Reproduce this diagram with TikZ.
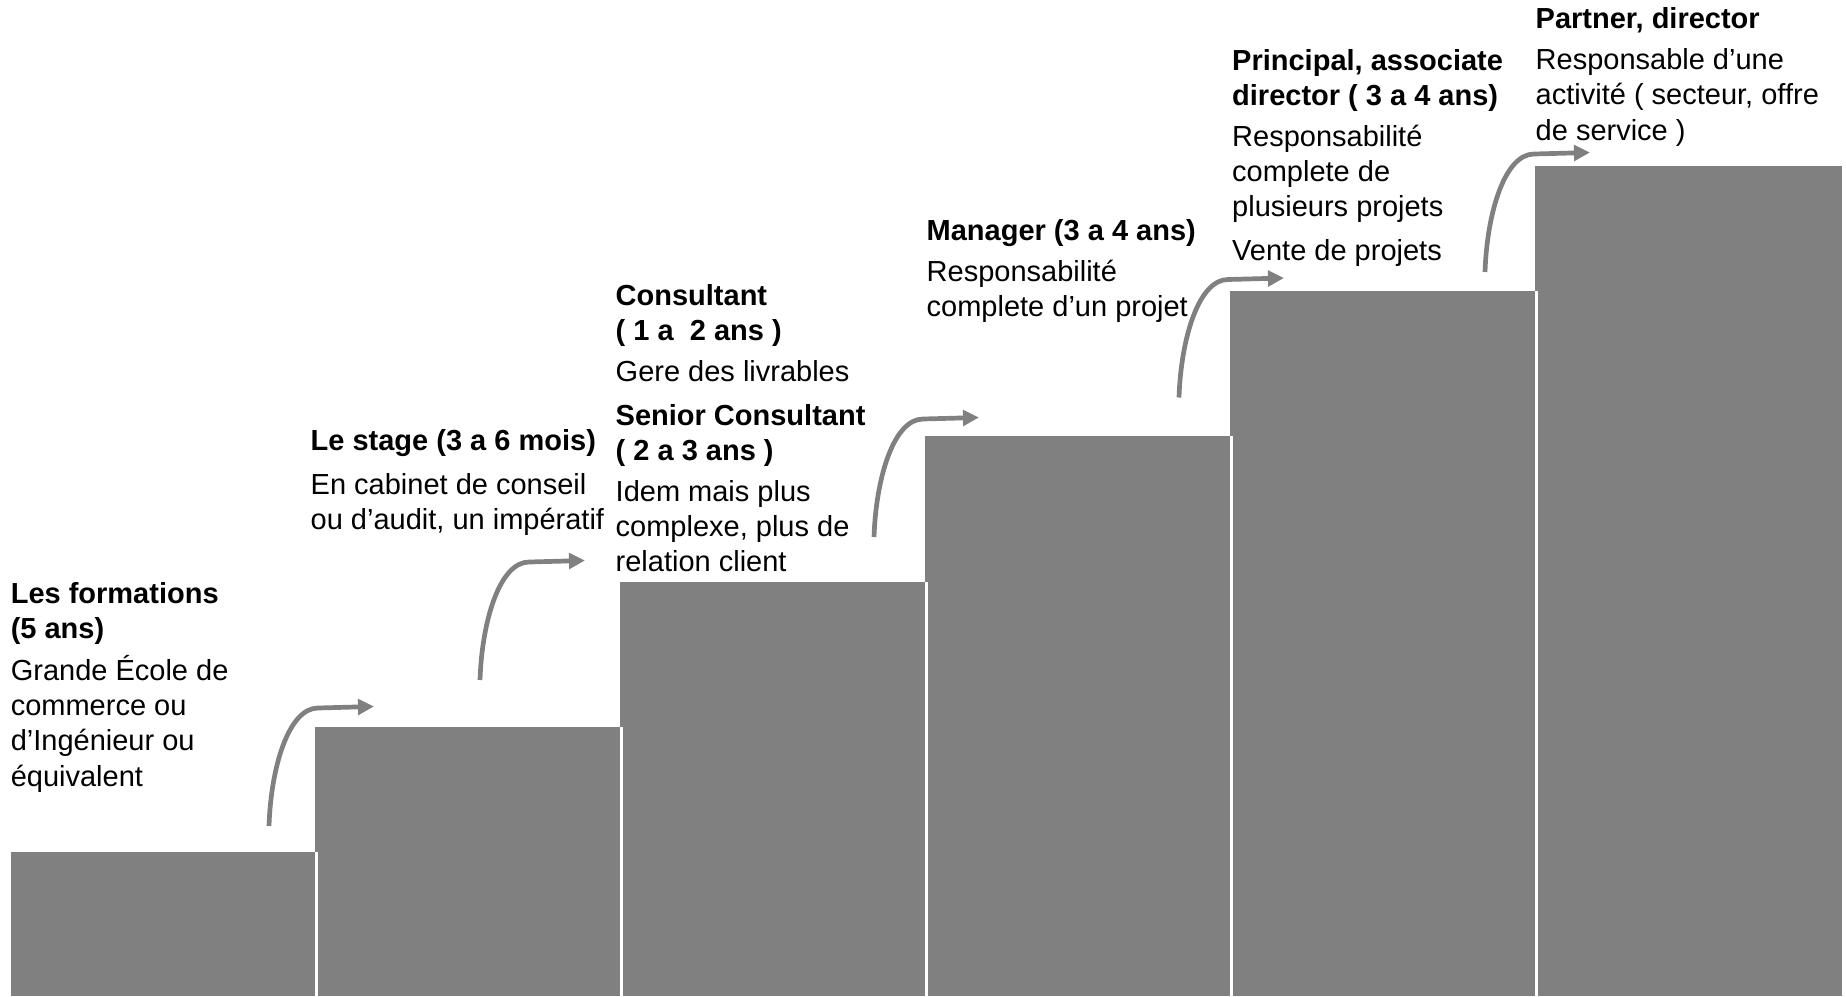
\documentclass[tikz,border=0pt]{standalone}
\usepackage{fontspec}
\setmainfont{Liberation Sans}
\usetikzlibrary{arrows.meta}
\definecolor{stepgray}{HTML}{808080}
\begin{document}
\begin{tikzpicture}[x=1pt,y=-1pt,
  bar/.style={fill=stepgray, draw=none},
  sep/.style={draw=white, line width=2.7pt},
  txt/.style={anchor=base west, inner sep=0pt, align=left, font=\fontsize{29}{35.3}\selectfont},
  head/.style={txt, font=\fontsize{29}{35}\selectfont\bfseries},
  steparrow/.style={draw=stepgray, line width=4.7pt, -{Triangle[length=16pt,width=15.5pt]}}]
\useasboundingbox (0,0) rectangle (1846,996);

% steps
\fill[bar] (10.6,851.5) rectangle (315,996);
\fill[bar] (315,726.7) rectangle (620,996);
\fill[bar] (620,581.7) rectangle (925,996);
\fill[bar] (925,436) rectangle (1230,996);
\fill[bar] (1230,290.7) rectangle (1535,996);
\fill[bar] (1535,166) rectangle (1842,996);
\draw[sep] (316.3,851.5) -- (316.3,996);
\draw[sep] (621.3,726.7) -- (621.3,996);
\draw[sep] (926.3,581.7) -- (926.3,996);
\draw[sep] (1231.3,436) -- (1231.3,996);
\draw[sep] (1536.3,290.7) -- (1536.3,996);

% arrows
\foreach \n/\ax/\ay in {1/269/826, 2/480/680, 3/874/537, 4/1179/397.5, 5/1485/272}{
  \begin{scope}[shift={(\ax,\ay)}]
    \coordinate (a\n s) at (0,0);
    \coordinate (a\n m) at (49,-118);
    \coordinate (a\n e) at (105,-119.5);
    \draw[steparrow] (a\n s) .. controls (2,-60) and (20,-118) .. (a\n m) -- (a\n e);
  \end{scope}
}

% texts (base anchor = baseline of the last line)
\node[head] (h1) at (10.6,638.5) {Les formations\\(5 ans)};
\node[txt]  (b1) at (10.6,786) {Grande École de\\commerce ou\\d’Ingénieur ou\\équivalent};

\node[head] (h2) at (310.5,450) {Le stage (3 a 6 mois)};
\node[txt]  (b2) at (310.5,529.5) {En cabinet de conseil\\ou d’audit, un impératif};

\node[head] (h3a) at (615.5,340) {Consultant\\( 1 a~~2 ans )};
\node[txt]  (b3a) at (615.5,381.7) {Gere des livrables};
\node[head] (h3b) at (615.5,460) {Senior Consultant\\( 2 a 3 ans )};
\node[txt]  (b3b) at (615.5,571.7) {Idem mais plus\\complexe, plus de\\relation client};

\node[head] (h4) at (926.5,240) {Manager (3 a 4 ans)};
\node[txt]  (b4) at (926.5,316.7) {Responsabilité\\complete d’un projet};

\node[head] (h5)  at (1232,105) {Principal, associate\\director ( 3 a 4 ans)};
\node[txt]  (b5a) at (1232,216.7) {Responsabilité\\complete de\\plusieurs projets};
\node[txt]  (b5b) at (1232,260) {Vente de projets};

\node[head] (h6) at (1535.5,28.3) {Partner, director};
\node[txt]  (b6) at (1535.5,140) {Responsable d’une\\activité ( secteur, offre\\de service )};
\end{tikzpicture}
\end{document}
